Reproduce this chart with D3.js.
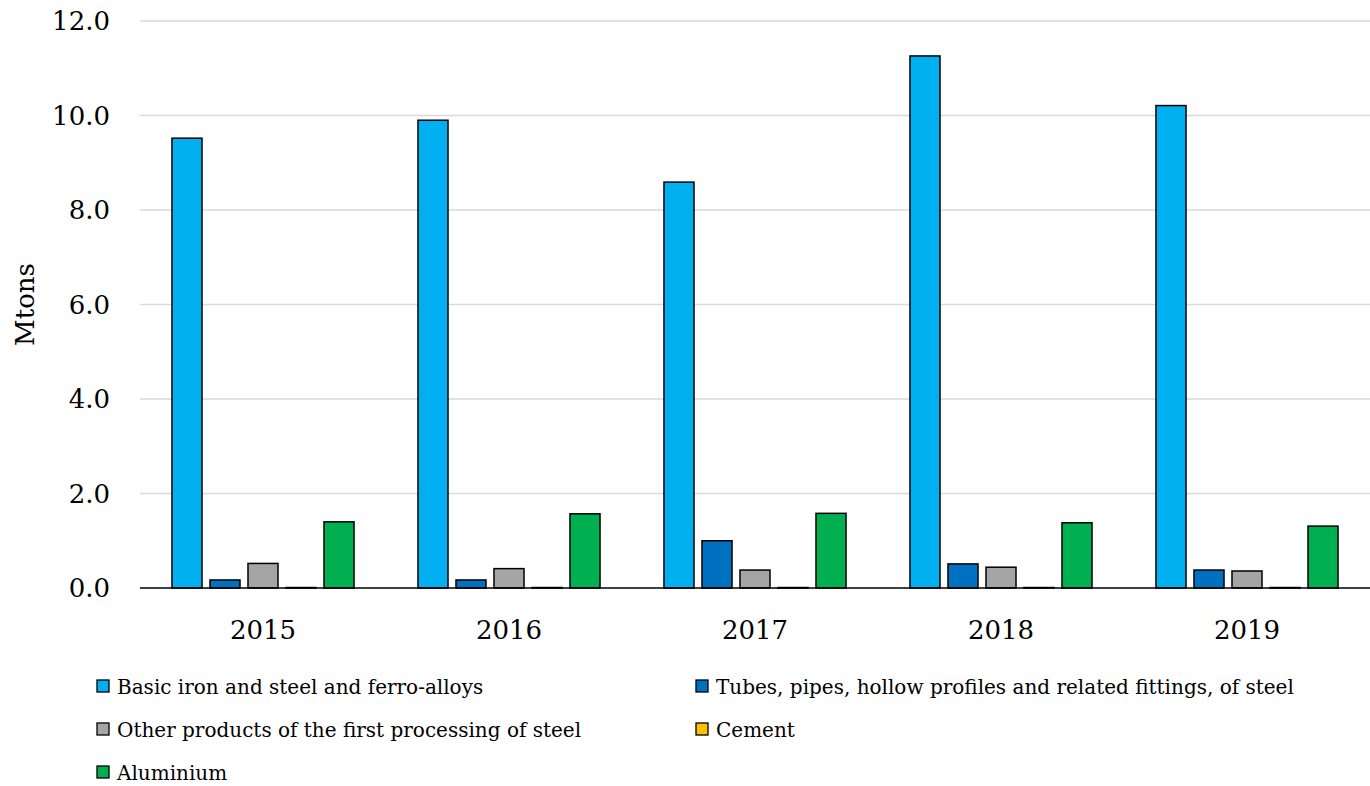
<!DOCTYPE html>
<html>
<head>
<meta charset="utf-8">
<script src="https://cdn.jsdelivr.net/npm/d3@7"></script>
<style>
  body { margin: 0; background: #fff; }
  svg text { font-family: "DejaVu Serif", serif; fill: #000; }
</style>
</head>
<body>
<svg id="chart" width="1370" height="786"></svg>
<script>
// data
var years = ["2015", "2016", "2017", "2018", "2019"];
var seriesNames = [
  "Basic iron and steel and ferro-alloys",
  "Tubes, pipes, hollow profiles and related fittings, of steel",
  "Other products of the first processing of steel",
  "Cement",
  "Aluminium"
];
var seriesColors = ["#00b0f0", "#0070c0", "#a5a5a5", "#ffc000", "#00b050"];
var basicIron = [9.52, 9.90, 8.59, 11.26, 10.21];
var tubesPipes = [0.17, 0.17, 1.00, 0.51, 0.38];
var otherSteel = [0.52, 0.41, 0.38, 0.44, 0.36];
var cement = [0.01, 0.01, 0.01, 0.01, 0.01];
var aluminium = [1.40, 1.57, 1.58, 1.38, 1.31];
var yTicks = [0, 2, 4, 6, 8, 10, 12];

var values = [basicIron, tubesPipes, otherSteel, cement, aluminium];

var svg = d3.select("#chart");
var plotL = 140, plotR = 1370, plotT = 21, plotB = 588;

var x0 = d3.scaleBand().domain(years).range([plotL, plotR]).paddingInner(0.26).paddingOuter(0.13);
var x1 = d3.scaleBand().domain(d3.range(seriesNames.length)).range([0, x0.bandwidth()]).paddingInner(0.21);
var y = d3.scaleLinear().domain([0, 12]).range([plotB, plotT]);

// gridlines
svg.append("g").selectAll("line").data(yTicks.filter(function(d){ return d > 0; }))
  .enter().append("line")
  .attr("x1", plotL).attr("x2", plotR)
  .attr("y1", function(d){ return y(d); }).attr("y2", function(d){ return y(d); })
  .attr("stroke", "#d9d9d9").attr("stroke-width", 1.5);

// y tick labels
svg.append("g").selectAll("text").data(yTicks).enter().append("text")
  .attr("x", 110).attr("y", function(d){ return y(d); })
  .attr("dy", "0.35em")
  .attr("text-anchor", "end")
  .style("font-size", "26px")
  .text(function(d){ return d3.format(".1f")(d); });

// y title
svg.append("text")
  .attr("transform", "translate(34," + ((plotT + plotB) / 2) + ") rotate(-90)")
  .attr("text-anchor", "middle")
  .style("font-size", "26px")
  .text("Mtons");

// bars
var groups = svg.append("g").selectAll("g").data(years).enter().append("g")
  .attr("transform", function(d){ return "translate(" + x0(d) + ",0)"; });
groups.selectAll("rect")
  .data(function(d, i){ return values.map(function(s, k){ return {k: k, v: s[i]}; }); })
  .enter().append("rect")
  .attr("x", function(d){ return x1(d.k); })
  .attr("width", x1.bandwidth())
  .attr("y", function(d){ return y(d.v); })
  .attr("height", function(d){ return y(0) - y(d.v); })
  .attr("fill", function(d){ return seriesColors[d.k]; })
  .attr("stroke", "#000").attr("stroke-width", 1.5);

// x axis line
svg.append("line")
  .attr("x1", plotL).attr("x2", plotR).attr("y1", y(0)).attr("y2", y(0))
  .attr("stroke", "#000").attr("stroke-width", 1.5);

// x labels
svg.append("g").selectAll("text").data(years).enter().append("text")
  .attr("x", function(d){ return x0(d) + x0.bandwidth() / 2; })
  .attr("y", 639)
  .attr("text-anchor", "middle")
  .style("font-size", "26px")
  .text(function(d){ return d; });

// legend
var legPos = [[97, 680], [696, 680], [97, 723], [696, 723], [97, 766]];
var leg = svg.append("g").selectAll("g").data(seriesNames).enter().append("g")
  .attr("transform", function(d, i){ return "translate(" + legPos[i][0] + "," + legPos[i][1] + ")"; });
leg.append("rect")
  .attr("width", 12).attr("height", 12)
  .attr("fill", function(d, i){ return seriesColors[i]; })
  .attr("stroke", "#000").attr("stroke-width", 1.3);
leg.append("text")
  .attr("x", 20).attr("y", 14)
  .style("font-size", "20px")
  .text(function(d){ return d; });
</script>
</body>
</html>
